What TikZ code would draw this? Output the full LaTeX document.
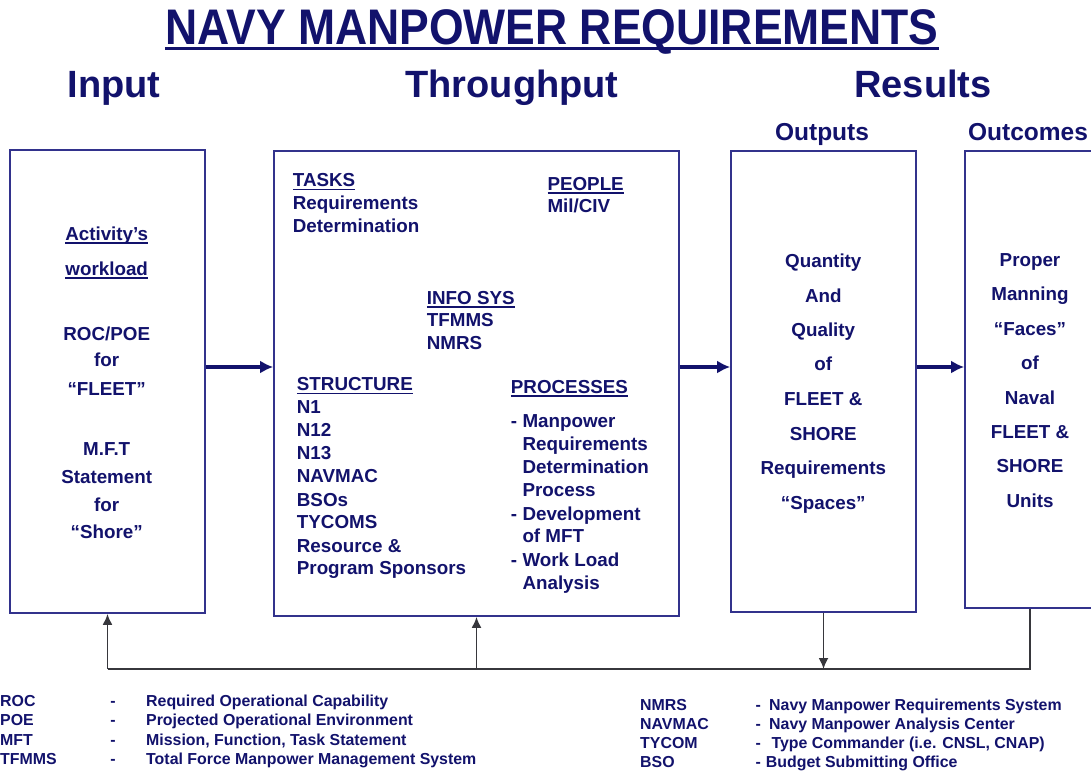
\documentclass[tikz,border=0pt]{standalone}
\usepackage{fontspec}
\setmainfont{Liberation Sans}
\usetikzlibrary{arrows.meta}
\definecolor{navy}{RGB}{18,18,108}
\definecolor{boxc}{RGB}{50,50,140}
\definecolor{fbc}{RGB}{55,55,60}
\newcommand\hul[1]{{\leavevmode\setbox0\hbox{#1}\rlap{\rule[-3.5pt]{\wd0}{1.5pt}}\box0}}
\newcommand\tul[1]{{\leavevmode\setbox0\hbox{#1}\rlap{\rule[-5.5pt]{\wd0}{3pt}}\box0}}
\tikzset{
  txt/.style={text=navy, inner sep=0pt, font=\fontsize{18.8}{22}\selectfont\bfseries},
  lft/.style={txt, anchor=base west},
  ctr/.style={txt, anchor=base},
  boxnode/.style={draw=boxc, line width=1.7pt, rectangle, inner sep=0pt, fill=white},
  mainarrow/.style={draw=navy, line width=3.5pt, -{Latex[length=13pt,width=13pt]}},
  fb/.style={draw=fbc, line width=1.8pt},
  fbarrow/.style={fb, -{Latex[length=11pt,width=10pt]}},
  head/.style={text=navy, inner sep=0pt, anchor=base, font=\fontsize{38}{40}\selectfont\bfseries},
  subhead/.style={text=navy, inner sep=0pt, anchor=base, font=\fontsize{24.5}{26}\selectfont\bfseries},
  leg/.style={text=navy, inner sep=0pt, anchor=base west, font=\fontsize{15.9}{17}\selectfont\bfseries},
  legc/.style={leg, anchor=base},
}
\begin{document}
\begin{tikzpicture}[x=1pt,y=-1pt]
\fill[white] (0,0) rectangle (1091,773);
\useasboundingbox (0,0) rectangle (1091,773);

% title and headings
\node[text=navy, inner sep=0pt, anchor=base, font=\fontsize{50}{52}\selectfont\bfseries] (title) at (552,44.5)
  {\scalebox{0.89}[1]{\tul{NAVY MANPOWER REQUIREMENTS}}};
\node[head] (hin) at (114,98) {Input};
\node[head] (hth) at (512,98) {Throughput};
\node[head] (hre) at (923,98) {Results};
\node[subhead] (hout) at (822,140) {Outputs};
\node[subhead] (hoc) at (1028,140) {Outcomes};

% boxes
\node[boxnode, minimum width=195pt, minimum height=463pt] (inbox) at (107.5,381.5) {};
\node[boxnode, minimum width=405pt, minimum height=465pt] (thbox) at (476.5,383.5) {};
\node[boxnode, minimum width=185pt, minimum height=461pt] (outbox) at (823.5,381.5) {};
\node[boxnode, minimum width=130pt, minimum height=457pt] (ocbox) at (1030,379.5) {};

% input box text
\node[ctr] (i1) at (106.7,240) {\hul{Activity’s}};
\node[ctr] (i2) at (106.7,275) {\hul{workload}};
\node[ctr] (i3) at (106.7,340) {ROC/POE};
\node[ctr] (i4) at (106.7,366.7) {for};
\node[ctr] (i5) at (106.7,395) {“FLEET”};
\node[ctr] (i6) at (106.7,455) {M.F.T};
\node[ctr] (i7) at (106.7,483.3) {Statement};
\node[ctr] (i8) at (106.7,511.7) {for};
\node[ctr] (i9) at (106.7,538.3) {“Shore”};

% throughput text
\node[lft] (t1) at (292.7,186.7) {\hul{TASKS}};
\node[lft] (t2) at (292.7,209.3) {Requirements};
\node[lft] (t3) at (292.7,232) {Determination};
\node[lft] (p1) at (547.3,190) {\hul{PEOPLE}};
\node[lft] (p2) at (547.3,212.7) {Mil/CIV};
\node[lft] (s1) at (426.7,304) {\hul{INFO SYS}};
\node[lft] (s2) at (426.7,326.7) {TFMMS};
\node[lft] (s3) at (426.7,349.3) {NMRS};
\node[lft] (r0) at (296.7,390.7) {\hul{STRUCTURE}};
\foreach \t/\y [count=\i] in {N1/413.3, N12/436, N13/459.3, NAVMAC/482.7, BSOs/506, TYCOMS/528.7, Resource \&/552, Program Sponsors/574.7}
  \node[lft] (r\i) at (296.7,\y) {\t};
\node[lft] (q0) at (510.7,393.3) {\hul{PROCESSES}};
\foreach \t/\y [count=\i] in {Manpower/427.3, Requirements/450.7, Determination/473.3, Process/496.7, Development/520, of MFT/542.7, Work Load/566, Analysis/589.3}
  \node[lft] (q\i) at (522.3,\y) {\t};
\foreach \y [count=\i] in {427.3, 520, 566}
  \node[lft] (qd\i) at (510.7,\y) {-};

% outputs text
\foreach \t/\y [count=\i] in {Quantity/267.7, And/302.3, Quality/336.7, of/370.7, FLEET \&/405.7, SHORE/440, Requirements/474.3, “Spaces”/509.3}
  \node[ctr] (o\i) at (823.3,\y) {\t};
% outcomes text
\foreach \t/\y [count=\i] in {Proper/266, Manning/300.7, “Faces”/335, of/369.3, Naval/404, FLEET \&/438.3, SHORE/472.7, Units/507.3}
  \node[ctr] (u\i) at (1030,\y) {\t};

% main arrows
\coordinate (arrowy) at (0,367);
\draw[mainarrow] (inbox.east |- arrowy) -- (thbox.west |- arrowy);
\draw[mainarrow] (thbox.east |- arrowy) -- (outbox.west |- arrowy);
\draw[mainarrow] (outbox.east |- arrowy) -- (ocbox.west |- arrowy);

% feedback loop
\coordinate (loopy) at (0,669);
\draw[fb] (ocbox.south) -- (ocbox.south |- loopy) -- (inbox.south |- loopy);
\draw[fbarrow] (inbox.south |- loopy) -- (inbox.south);
\draw[fbarrow] (thbox.south |- loopy) -- (thbox.south);
\draw[fbarrow] (outbox.south) -- (outbox.south |- loopy);

% legend left
\foreach \a/\d/\y [count=\i] in {ROC/Required Operational Capability/706.5, POE/Projected Operational Environment/725.5, MFT/{Mission, Function, Task Statement}/745.5, TFMMS/Total Force Manpower Management System/764.5}{
  \node[leg] (la\i) at (0,\y) {\a};
  \node[legc] (ld\i) at (113,\y) {-};
  \node[leg] (lt\i) at (146,\y) {\d};
}
% legend right
\foreach \a/\d/\x/\y [count=\i] in {NMRS/Navy Manpower Requirements System/769/710.5, NAVMAC/Navy Manpower Analysis Center/769/729.5, TYCOM/{Type Commander (i.e. CNSL, CNAP)}/771.3/748.5, BSO/Budget Submitting Office/765.7/767.5}{
  \node[leg] (ra\i) at (640,\y) {\a};
  \node[leg] (rd\i) at (755.5,\y) {-};
  \node[leg] (rt\i) at (\x,\y) {\d};
}
\end{tikzpicture}
\end{document}
